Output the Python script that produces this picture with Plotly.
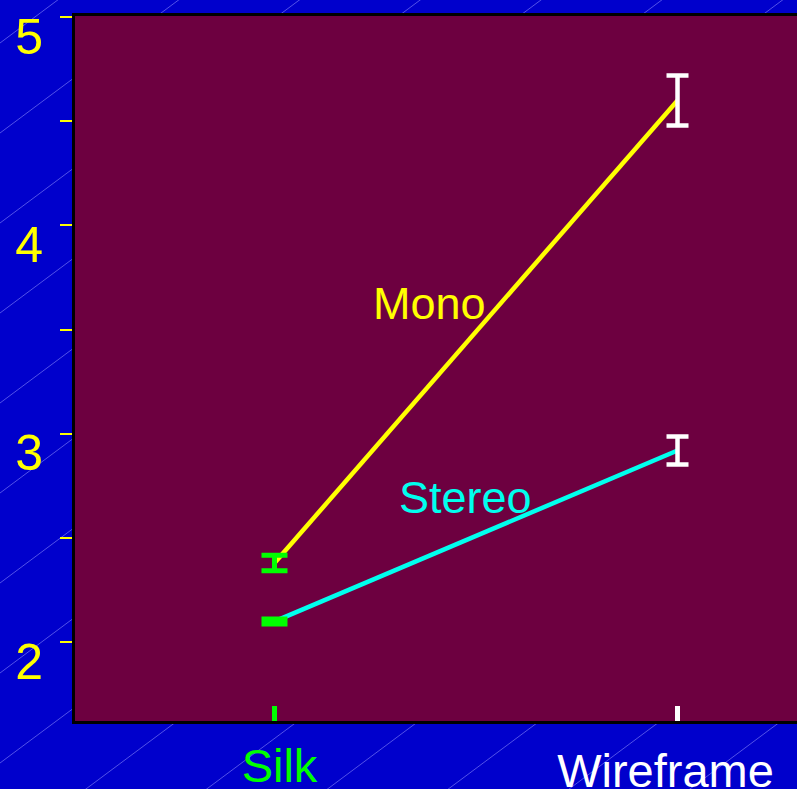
import plotly.graph_objects as go

# ---- data ----
categories = ["Silk", "Wireframe"]
series_names = ["Mono", "Stereo"]
mono_means = [2.38, 4.60]
stereo_means = [2.10, 2.92]
mono_err = [0.037, 0.12]
stereo_err = [0.012, 0.067]
y_tickvals = [2, 2.5, 3, 3.5, 4, 4.5, 5]
y_ticktext = ["2", "", "3", "", "4", "", "5"]

W, H = 797, 789
ML, MR, MT, MB = 75, 0, 16, 68
FONT = "Liberation Sans, Arial, sans-serif"
BLUE = "#0000CC"
MAROON = "#6D0040"
XR = [-0.495, 1.2965]

xs = list(range(len(categories)))

fig = go.Figure()
fig.add_trace(go.Scatter(x=xs, y=mono_means, mode="lines", name=series_names[0],
                         line=dict(color="#FFFF00", width=4.5), showlegend=False))
fig.add_trace(go.Scatter(x=xs, y=stereo_means, mode="lines", name=series_names[1],
                         line=dict(color="#00FFEE", width=4.5), showlegend=False))

# error bars per category (different colours)
fig.add_trace(go.Scatter(x=[xs[0], xs[0]], y=[mono_means[0], stereo_means[0]],
                         mode="markers", marker=dict(size=1, color="rgba(0,0,0,0)"),
                         error_y=dict(type="data", array=[mono_err[0], stereo_err[0]],
                                      color="#00FF00", thickness=5, width=13),
                         showlegend=False, hoverinfo="skip"))
fig.add_trace(go.Scatter(x=[xs[1], xs[1]], y=[mono_means[1], stereo_means[1]],
                         mode="markers", marker=dict(size=1, color="rgba(0,0,0,0)"),
                         error_y=dict(type="data", array=[mono_err[1], stereo_err[1]],
                                      color="#FFFFFF", thickness=4.5, width=11),
                         xaxis="x2", showlegend=False, hoverinfo="skip"))

# series labels
fig.add_annotation(x=0.385, y=3.625, text=series_names[0], showarrow=False,
                   font=dict(family=FONT, size=45, color="#FFFF00"))
fig.add_annotation(x=0.475, y=2.695, text=series_names[1], showarrow=False,
                   font=dict(family=FONT, size=45, color="#00FFEE"))

# decorative diagonal background lines (paper coordinates)
pw = W - ML - MR
ph = H - MT - MB
shapes = []
for k in range(0, 17):
    c = 43 + 90 * k
    x0p, y0p = 0, c
    x1p, y1p = W, c - 0.745 * W
    shapes.append(dict(type="line", xref="paper", yref="paper",
                       x0=(x0p - ML) / pw, y0=(H - MB - y0p) / ph,
                       x1=(x1p - ML) / pw, y1=(H - MB - y1p) / ph,
                       line=dict(color="rgba(150,150,255,0.55)", width=1), layer="below"))
shapes.append(dict(type="rect", xref="paper", yref="paper", x0=0, x1=1, y0=0, y1=1,
                   fillcolor=MAROON, line=dict(width=0), layer="below"))

fig.update_layout(
    width=W, height=H,
    margin=dict(l=ML, r=MR, t=MT, b=MB, pad=0, autoexpand=False),
    paper_bgcolor=BLUE, plot_bgcolor="rgba(0,0,0,0)",
    font=dict(family=FONT),
    shapes=shapes,
    xaxis=dict(range=XR, tickmode="array", tickvals=[xs[0]], ticktext=[categories[0]],
               ticks="inside", ticklen=15, tickwidth=5, tickcolor="#00FF00",
               tickfont=dict(size=47, color="#00FF00", family=FONT), ticklabelshift=5,
               ticklabelstandoff=2, automargin=False,
               showgrid=False, zeroline=False, showline=True, linecolor="black",
               linewidth=3, mirror=True),
    xaxis2=dict(range=XR, overlaying="x", matches="x", side="bottom",
                tickmode="array", tickvals=[xs[1]], ticktext=[categories[1]],
                ticks="inside", ticklen=15, tickwidth=5, tickcolor="#FFFFFF",
                tickfont=dict(size=47, color="#FFFFFF", family=FONT), ticklabelshift=-12,
                ticklabelstandoff=18, automargin=False,
                showgrid=False, zeroline=False, showline=False),
    yaxis=dict(range=[1.622, 5.005], tickmode="array", tickvals=y_tickvals, ticktext=y_ticktext,
               ticks="outside", ticklen=12, tickwidth=2, tickcolor="#FFFF00",
               tickfont=dict(size=50, color="#FFFF00", family=FONT), ticklabelshift=19,
               ticklabelstandoff=7, ticklabeloverflow="allow", automargin=False,
               showgrid=False, zeroline=False, showline=True, linecolor="black", linewidth=3),
)

fig.write_html("out.html", config={"displayModeBar": False},
               post_script="document.body.style.margin='0';document.body.style.overflow='hidden';")
